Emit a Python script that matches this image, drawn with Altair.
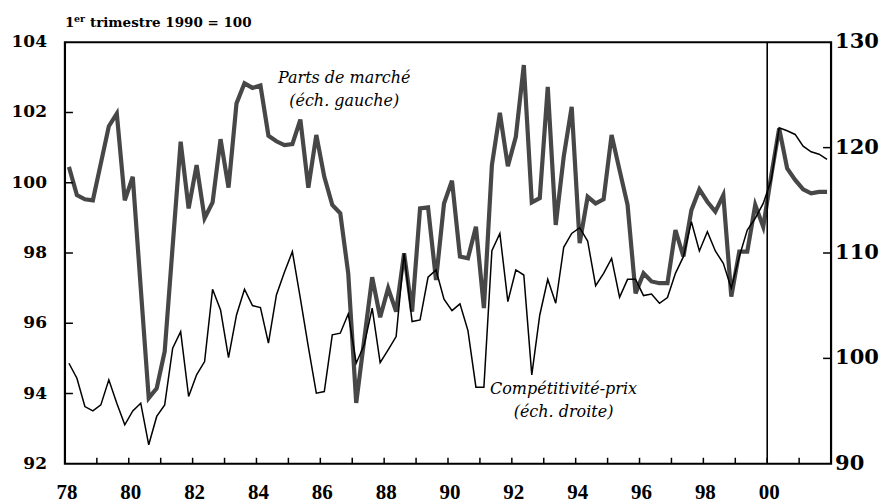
import altair as alt
import pandas as pd

# ---------------- data ----------------
start_year = 1978  # first quarter: 1978 T1, quarterly to 2001 T4

parts = [100.45, 99.65, 99.53, 99.5, 100.55, 101.61, 101.97, 99.5, 100.17, 97.0, 93.87, 94.15, 95.2, 98.2, 101.17, 99.27,
         100.5, 98.99, 99.44, 101.24, 99.86, 102.26, 102.83, 102.7, 102.77, 101.34, 101.18, 101.07, 101.1, 101.8, 99.86, 101.36,
         100.17, 99.37, 99.13, 97.42, 93.73, 95.53, 97.31, 96.17, 97.0, 96.33, 97.99, 96.33, 99.27, 99.3, 97.23, 99.41,
         100.06, 97.9, 97.85, 98.75, 96.43, 100.5, 101.99, 100.47, 101.31, 103.35, 99.44, 99.56, 102.73, 98.8, 100.74, 102.16,
         98.28, 99.6, 99.41, 99.53, 101.36, 100.36, 99.37, 96.85, 97.42, 97.19, 97.14, 97.14, 98.65, 97.9, 99.22, 99.81,
         99.46, 99.18, 99.65, 96.76, 98.04, 98.04, 99.37, 98.75, 100.2, 101.55, 100.41, 100.08, 99.81, 99.7, 99.74, 99.74]

compet = [99.54, 98.12, 95.43, 95.02, 95.59, 97.96, 95.75, 93.7, 95.02, 95.75, 91.8, 94.49, 95.59, 100.97, 102.54, 96.38,
          98.44, 99.7, 106.56, 104.6, 100.08, 104.12, 106.56, 105.01, 104.82, 101.44, 106.02, 108.17, 110.13, 105.7, 101.1, 96.7,
          96.85, 102.23, 102.39, 104.22, 99.54, 101.28, 104.76, 99.6, 100.81, 102.07, 109.97, 103.49, 103.65, 107.7, 108.39, 105.61,
          104.53, 105.17, 102.64, 97.27, 97.27, 110.22, 111.86, 105.39, 108.39, 107.91, 98.44, 104.12, 107.5, 105.23, 110.54, 111.86,
          112.4, 111.14, 106.9, 108.07, 109.49, 105.8, 107.5, 107.5, 105.96, 106.11, 105.23, 105.77, 108.07, 109.65, 112.97, 110.19,
          112.02, 110.19, 109.02, 106.65, 109.65, 112.18, 113.29, 114.71, 116.92, 121.88, 121.6, 121.25, 120.14, 119.6, 119.38, 118.88]

left_ticks = [92, 94, 96, 98, 100, 102, 104]
left_inner_ticks = [94, 96, 98, 100, 102]
right_ticks = [90, 100, 110, 120, 130]
right_inner_ticks = [100, 110, 120]
year_labels = [1978, 1980, 1982, 1984, 1986, 1988, 1990, 1992, 1994, 1996, 1998, 2000]
year_label_text = ["78", "80", "82", "84", "86", "88", "90", "92", "94", "96", "98", "00"]
year_ticks = list(range(1979, 2002))
marker_year = [2000]

label_parts = ["Parts de marché", "(éch. gauche)"]
label_compet = ["Compétitivité-prix", "(éch. droite)"]

# ---------------- frames ----------------
t = [start_year + (i + 0.5) / 4 for i in range(len(parts))]
df = pd.DataFrame({"t": t, "parts": parts, "compet": compet})

W, H = 767, 422
SERIF = "DejaVu Serif"

xs = alt.Scale(domain=[1978, 2002], nice=False, zero=False)
yl = alt.Scale(domain=[92, 104], nice=False, zero=False)
yr = alt.Scale(domain=[90, 130], nice=False, zero=False)

parts_line = alt.Chart(df).mark_line(color="#474747", strokeWidth=4.2, strokeJoin="miter").encode(
    x=alt.X("t:Q", scale=xs, axis=None),
    y=alt.Y("parts:Q", scale=yl, axis=None),
)

lt_df = pd.DataFrame({"v": left_inner_ticks})
left_tick_rules = alt.Chart(lt_df).mark_rule(color="black", strokeWidth=1.5).encode(
    y=alt.Y("v:Q", scale=yl, axis=None), x=alt.value(0), x2=alt.value(8))

ll_df = pd.DataFrame({"v": left_ticks, "s": [str(v) for v in left_ticks]})
left_labels = alt.Chart(ll_df).mark_text(font=SERIF, fontWeight="bold", fontSize=17, color="black",
                                         align="right", baseline="middle").encode(
    y=alt.Y("v:Q", scale=yl, axis=None), x=alt.value(-18), text="s:N")

xt_df = pd.DataFrame({"yr": year_ticks})
x_tick_rules = alt.Chart(xt_df).mark_rule(color="black", strokeWidth=1.5).encode(
    x=alt.X("yr:Q", scale=xs, axis=None), y=alt.value(H), y2=alt.value(H - 6))

xl_df = pd.DataFrame({"yr": year_labels, "s": year_label_text})
x_labels = alt.Chart(xl_df).mark_text(font="Liberation Serif", fontWeight="bold", fontSize=21, color="black",
                                      align="center", baseline="middle", dx=2).encode(
    x=alt.X("yr:Q", scale=xs, axis=None), y=alt.value(H + 29), text="s:N")

vl_df = pd.DataFrame({"yr": marker_year})
vline = alt.Chart(vl_df).mark_rule(color="black", strokeWidth=1.6).encode(
    x=alt.X("yr:Q", scale=xs, axis=None), y=alt.value(0), y2=alt.value(H))

ann_df = pd.DataFrame({
    "x": [1986.75, 1986.75, 1993.62, 1993.62],
    "y": [102.98, 102.33, 94.13, 93.48],
    "txt": label_parts + label_compet,
})
ann = alt.Chart(ann_df).mark_text(font=SERIF, fontStyle="italic", fontSize=16, color="black",
                                  align="center", baseline="middle").encode(
    x=alt.X("x:Q", scale=xs, axis=None), y=alt.Y("y:Q", scale=yl, axis=None), text="txt:N")

title_one = alt.Chart(pd.DataFrame({"s": ["1"]})).mark_text(
    font=SERIF, fontWeight="bold", fontSize=13.5, align="left", baseline="alphabetic", color="black"
).encode(x=alt.value(0), y=alt.value(-15), text="s:N")
title_sup = alt.Chart(pd.DataFrame({"s": ["er"]})).mark_text(
    font=SERIF, fontWeight="bold", fontSize=9.5, align="left", baseline="alphabetic", color="black"
).encode(x=alt.value(9), y=alt.value(-20), text="s:N")
title_rest = alt.Chart(pd.DataFrame({"s": ["trimestre 1990 = 100"]})).mark_text(
    font=SERIF, fontWeight="bold", fontSize=13.5, align="left", baseline="alphabetic", color="black"
).encode(x=alt.value(25), y=alt.value(-15), text="s:N")

left_layer = alt.layer(parts_line, left_tick_rules, left_labels, x_tick_rules, x_labels, vline, ann,
                       title_one, title_sup, title_rest)

compet_line = alt.Chart(df).mark_line(color="black", strokeWidth=1.5).encode(
    x=alt.X("t:Q", scale=xs, axis=None),
    y=alt.Y("compet:Q", scale=yr, axis=None),
)
rt_df = pd.DataFrame({"v": right_inner_ticks})
right_tick_rules = alt.Chart(rt_df).mark_rule(color="black", strokeWidth=1.5).encode(
    y=alt.Y("v:Q", scale=yr, axis=None), x=alt.value(W - 8), x2=alt.value(W))

rl_df = pd.DataFrame({"v": right_ticks, "s": [str(v) for v in right_ticks]})
right_labels = alt.Chart(rl_df).mark_text(font=SERIF, fontWeight="bold", fontSize=21, color="black",
                                          align="left", baseline="middle").encode(
    y=alt.Y("v:Q", scale=yr, axis=None), x=alt.value(W + 4), text="s:N")

right_layer = alt.layer(compet_line, right_tick_rules, right_labels)

chart = alt.layer(left_layer, right_layer).resolve_scale(y="independent").properties(
    width=W, height=H,
    padding={"left": 57, "top": 34, "right": 48, "bottom": 39},
    autosize=alt.AutoSizeParams(type="none"),
    background="white",
).configure_view(stroke="black", strokeWidth=2.2)

chart.save("out.html", embed_options={"renderer": "svg", "actions": False})
